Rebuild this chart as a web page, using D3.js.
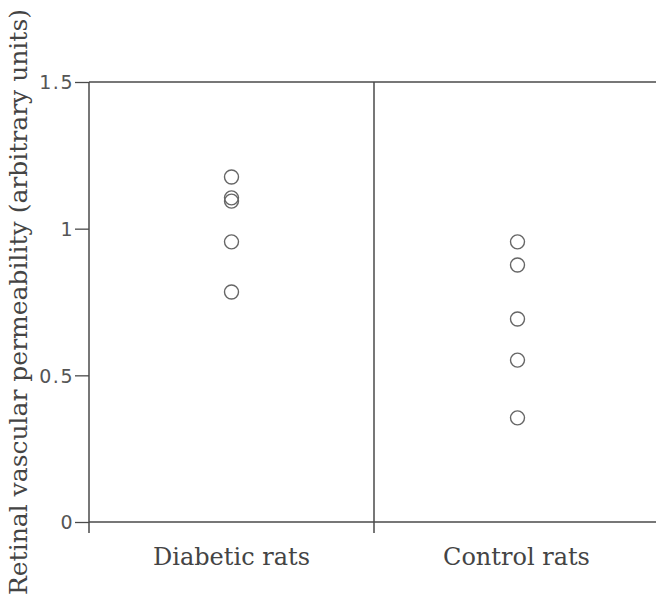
<!DOCTYPE html>
<html><head><meta charset="utf-8">
<script src="https://cdn.jsdelivr.net/npm/d3@7"></script>
<style>body{margin:0;background:#fff}svg{display:block}</style>
</head><body>
<svg id="c" width="656" height="598"></svg>
<script>
const categories = ["Diabetic rats", "Control rats"];
const diabeticValues = [1.176, 1.105, 1.094, 0.955, 0.784];
const controlValues = [0.955, 0.876, 0.692, 0.552, 0.355];
const tickValues = [0, 0.5, 1, 1.5];
const tickLabels = ["0", "0.5", "1", "1.5"];
const yTitle = "Retinal vascular permeability (arbitrary units)";

(function () {
const svg = d3.select("#c");
const mLeft = 89, mRight = 659, mTop = 82, mBottom = 522;
const ink = "#4a4a4a";

const x = d3.scaleBand().domain(categories).range([mLeft, mRight]);
const y = d3.scaleLinear().domain([0, 1.5]).range([mBottom, mTop]);

svg.append("line").attr("x1", mLeft).attr("x2", 656).attr("y1", y(1.5)).attr("y2", y(1.5))
  .attr("stroke", ink).attr("stroke-width", 1.5);
svg.append("line").attr("x1", mLeft).attr("x2", 656).attr("y1", y(0)).attr("y2", y(0))
  .attr("stroke", ink).attr("stroke-width", 1.5);

const yAxis = d3.axisLeft(y).tickValues(tickValues).tickSize(14)
  .tickFormat((d, i) => tickLabels[i]);
const ga = svg.append("g").attr("transform", `translate(${mLeft},0)`).call(yAxis);
ga.select(".domain").remove();
ga.selectAll(".tick line").attr("stroke", ink).attr("stroke-width", 1.3);
ga.selectAll(".tick text").attr("font-family", "DejaVu Sans").attr("font-size", 19)
  .attr("fill", "#555").attr("letter-spacing", "1.5px").attr("x", -15).attr("dy", "0.36em");

const vlines = [mLeft, x(categories[1])];
svg.selectAll("line.v").data(vlines).join("line").attr("class", "v")
  .attr("x1", d => d).attr("x2", d => d).attr("y1", y(1.5)).attr("y2", y(0) + 11)
  .attr("stroke", ink).attr("stroke-width", 1.5);

svg.selectAll("text.cat").data(categories).join("text").attr("class", "cat")
  .attr("x", d => x(d) + x.bandwidth() / 2).attr("y", 565)
  .attr("text-anchor", "middle").attr("font-family", "DejaVu Serif").attr("font-size", 24)
  .attr("fill", "#444").text(d => d);

svg.append("text").attr("transform", "translate(27,302) rotate(-90)")
  .attr("text-anchor", "middle").attr("font-family", "DejaVu Serif").attr("font-size", 25)
  .attr("fill", "#444").text(yTitle);

const series = [diabeticValues, controlValues];
series.forEach((vals, i) => {
  svg.append("g").selectAll("circle").data(vals).join("circle")
    .attr("cx", x(categories[i]) + x.bandwidth() / 2 + (i === 1 ? 1 : 0))
    .attr("cy", d => y(d)).attr("r", 7)
    .attr("fill", "none").attr("stroke", "#666").attr("stroke-width", 1.4);
});
})();
</script>
</body></html>
